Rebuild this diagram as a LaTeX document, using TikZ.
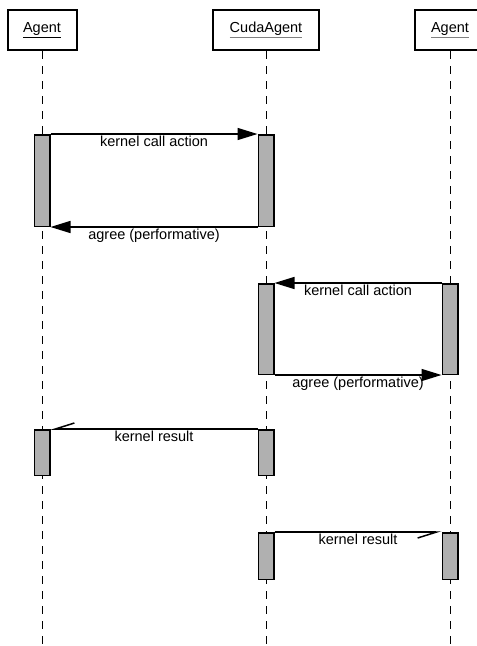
\documentclass[tikz,border=0pt]{standalone}
\usepackage{fontspec}
\setmainfont{Liberation Sans}
\usetikzlibrary{arrows.meta}
\definecolor{bargray}{RGB}{176,176,176}
\newcommand{\grayul}[1]{{\color{gray}\underline{\color{black}#1}}}

\begin{document}
\begin{tikzpicture}[x=1pt, y=-1pt,
    head/.style={shape=rectangle, draw=black, line width=2pt, minimum height=40pt, inner sep=0pt, font=\fontsize{14.5}{17}\selectfont},
    bar/.style={shape=rectangle, draw=black, line width=1.5pt, fill=bargray, minimum width=15.5pt, inner sep=0pt},
    life/.style={line width=1pt, dash pattern=on 8pt off 7pt},
    call/.style={line width=1.5pt, -{Triangle[length=20pt, width=12pt]}},
    reply/.style={line width=1.5pt, -{Straight Barb[harpoon, swap, length=19pt, width=12pt]}},
    lbl/.style={below, inner sep=1pt, font=\fontsize{14.5}{17}\selectfont}]
    \useasboundingbox (0,0) rectangle (477,646);
    \clip (0,0) rectangle (477,646);

    % objects
    \node (h1) at (42,30) [head, minimum width=69pt] {\underline{Agent}};
    \node (h2) at (266,30) [head, minimum width=106pt] {\grayul{CudaAgent}};
    \node (h3) at (450,30) [head, minimum width=70pt] {\grayul{Agent}};

    % lifelines
    \coordinate (e1) at (42,646);
    \coordinate (e2) at (266,646);
    \coordinate (e3) at (450,646);
    \draw[life] (h1.south) -- (e1);
    \draw[life] (h2.south) -- (e2);
    \draw[life] (h3.south) -- (e3);

    % activations
    \node (a1) at (42,180.5) [bar, minimum height=91.5pt] {};
    \node (c1) at (266,180.5) [bar, minimum height=91.5pt] {};
    \node (c2) at (266,329) [bar, minimum height=90.5pt] {};
    \node (b1) at (450,329) [bar, minimum height=90.5pt] {};
    \node (a2) at (42,452.5) [bar, minimum height=45.5pt] {};
    \node (c3) at (266,452.5) [bar, minimum height=45.5pt] {};
    \node (c4) at (266,556) [bar, minimum height=46.5pt] {};
    \node (b2) at (450,556) [bar, minimum height=46.5pt] {};

    % messages
    \draw[call] (a1.north east) -- node[lbl] {kernel call action} (c1.north west);
    \draw[call] (c1.south west) -- node[lbl] {agree (performative)} (a1.south east);
    \draw[call] (b1.north west) -- node[lbl] {kernel call action} (c2.north east);
    \draw[call] (c2.south east) -- node[lbl] {agree (performative)} (b1.south west);
    \draw[reply] (c3.north west) -- node[lbl] {kernel result} (a2.north east);
    \draw[reply] (c4.north east) -- node[lbl] {kernel result} (b2.north west);
\end{tikzpicture}
\end{document}
